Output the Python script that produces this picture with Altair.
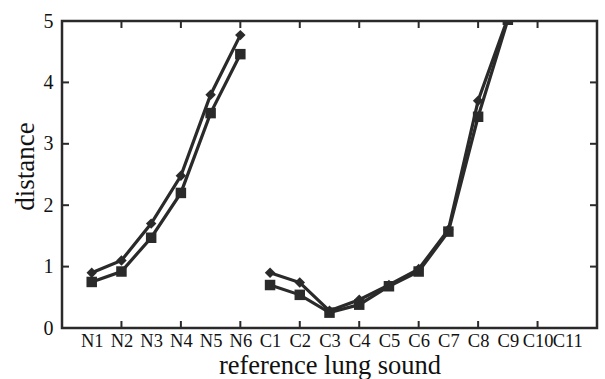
import altair as alt
import pandas as pd

categories = ["N1", "N2", "N3", "N4", "N5", "N6",
              "C1", "C2", "C3", "C4", "C5", "C6", "C7", "C8", "C9", "C10", "C11"]
groups = ["normal"] * 6 + ["crackle"] * 11

# series A (diamonds, upper) and series B (squares, lower); None = no value
series_a = [0.90, 1.10, 1.70, 2.48, 3.80, 4.77,
            0.90, 0.74, 0.28, 0.46, 0.70, 0.96, 1.60, 3.70, 5.05, None, None]
series_b = [0.75, 0.92, 1.47, 2.20, 3.50, 4.46,
            0.70, 0.54, 0.25, 0.38, 0.68, 0.92, 1.57, 3.44, 5.02, None, None]

x_ticks = [2, 4, 6, 8, 10, 12, 14, 16]
y_ticks = [1, 2, 3, 4]
y_labels = [0, 1, 2, 3, 4, 5]

W, H = 535, 307
INK = "#2a2a2a"
FONT = "Liberation Serif"

rows = []
for i, (c, g) in enumerate(zip(categories, groups)):
    if series_a[i] is not None:
        rows.append({"pos": i + 1, "cat": c, "group": g, "series": "A", "value": series_a[i]})
    if series_b[i] is not None:
        rows.append({"pos": i + 1, "cat": c, "group": g, "series": "B", "value": series_b[i]})
df = pd.DataFrame(rows)
df["seg"] = df["series"] + "_" + df["group"]

label_expr = "[" + ",".join("'%s'" % c for c in categories) + "][datum.value - 1]"

xscale = alt.Scale(domain=[0, 18], nice=False, zero=False)
yscale = alt.Scale(domain=[0, 5], nice=False)

x_axis = alt.Axis(values=list(range(1, 18)), labelExpr=label_expr,
                  ticks=False, domain=False, grid=False,
                  labelOverlap=False, labelFontSize=18.5, labelFont=FONT,
                  labelColor="#111", labelPadding=3, labelFlush=False,
                  labelBound=False,
                  title="reference lung sound", titleFont=FONT,
                  titleFontSize=26.5, titleFontWeight="normal",
                  titleColor="#111", titlePadding=3)
y_axis = alt.Axis(values=y_labels, format="d", ticks=False, domain=False, grid=False,
                  labelFontSize=20, labelFont=FONT, labelColor="#111",
                  labelPadding=9, labelFlush=False, labelOverlap=False,
                  title="distance", titleFont=FONT, titleFontSize=27,
                  titleFontWeight="normal", titleColor="#111",
                  titlePadding=4, titleY=145)

base = alt.Chart(df)
lines = base.mark_line(color=INK, strokeWidth=3.2, clip=True).encode(
    x=alt.X("pos:Q", scale=xscale, axis=x_axis),
    y=alt.Y("value:Q", scale=yscale, axis=y_axis),
    detail="seg:N", order="pos:Q")
points = base.mark_point(filled=True, color=INK, size=110, opacity=1, clip=True).encode(
    x=alt.X("pos:Q", scale=xscale, axis=x_axis),
    y=alt.Y("value:Q", scale=yscale, axis=y_axis),
    shape=alt.Shape("series:N", scale=alt.Scale(domain=["A", "B"], range=["diamond", "square"]),
                    legend=None))

xt = pd.DataFrame({"t": x_ticks})
yt = pd.DataFrame({"t": y_ticks})
bottom_ticks = alt.Chart(xt).mark_rule(color=INK, strokeWidth=2).encode(
    x=alt.X("t:Q", scale=xscale, axis=x_axis), y=alt.value(H), y2=alt.value(H - 7))
top_ticks = alt.Chart(xt).mark_rule(color=INK, strokeWidth=2).encode(
    x=alt.X("t:Q", scale=xscale, axis=x_axis), y=alt.value(0), y2=alt.value(7))
left_ticks = alt.Chart(yt).mark_rule(color=INK, strokeWidth=2).encode(
    y=alt.Y("t:Q", scale=yscale, axis=y_axis), x=alt.value(0), x2=alt.value(7))
right_ticks = alt.Chart(yt).mark_rule(color=INK, strokeWidth=2).encode(
    y=alt.Y("t:Q", scale=yscale, axis=y_axis), x=alt.value(W), x2=alt.value(W - 7))

chart = alt.layer(lines, points, bottom_ticks, top_ticks, left_ticks, right_ticks).properties(
    width=W, height=H,
    background="white",
    autosize=alt.AutoSizeParams(type="none"),
    padding={"left": 62, "top": 21, "right": 8, "bottom": 51},
).configure_view(stroke=INK, strokeWidth=2.5)

chart.save("out.html", embed_options={"renderer": "svg", "actions": False})
